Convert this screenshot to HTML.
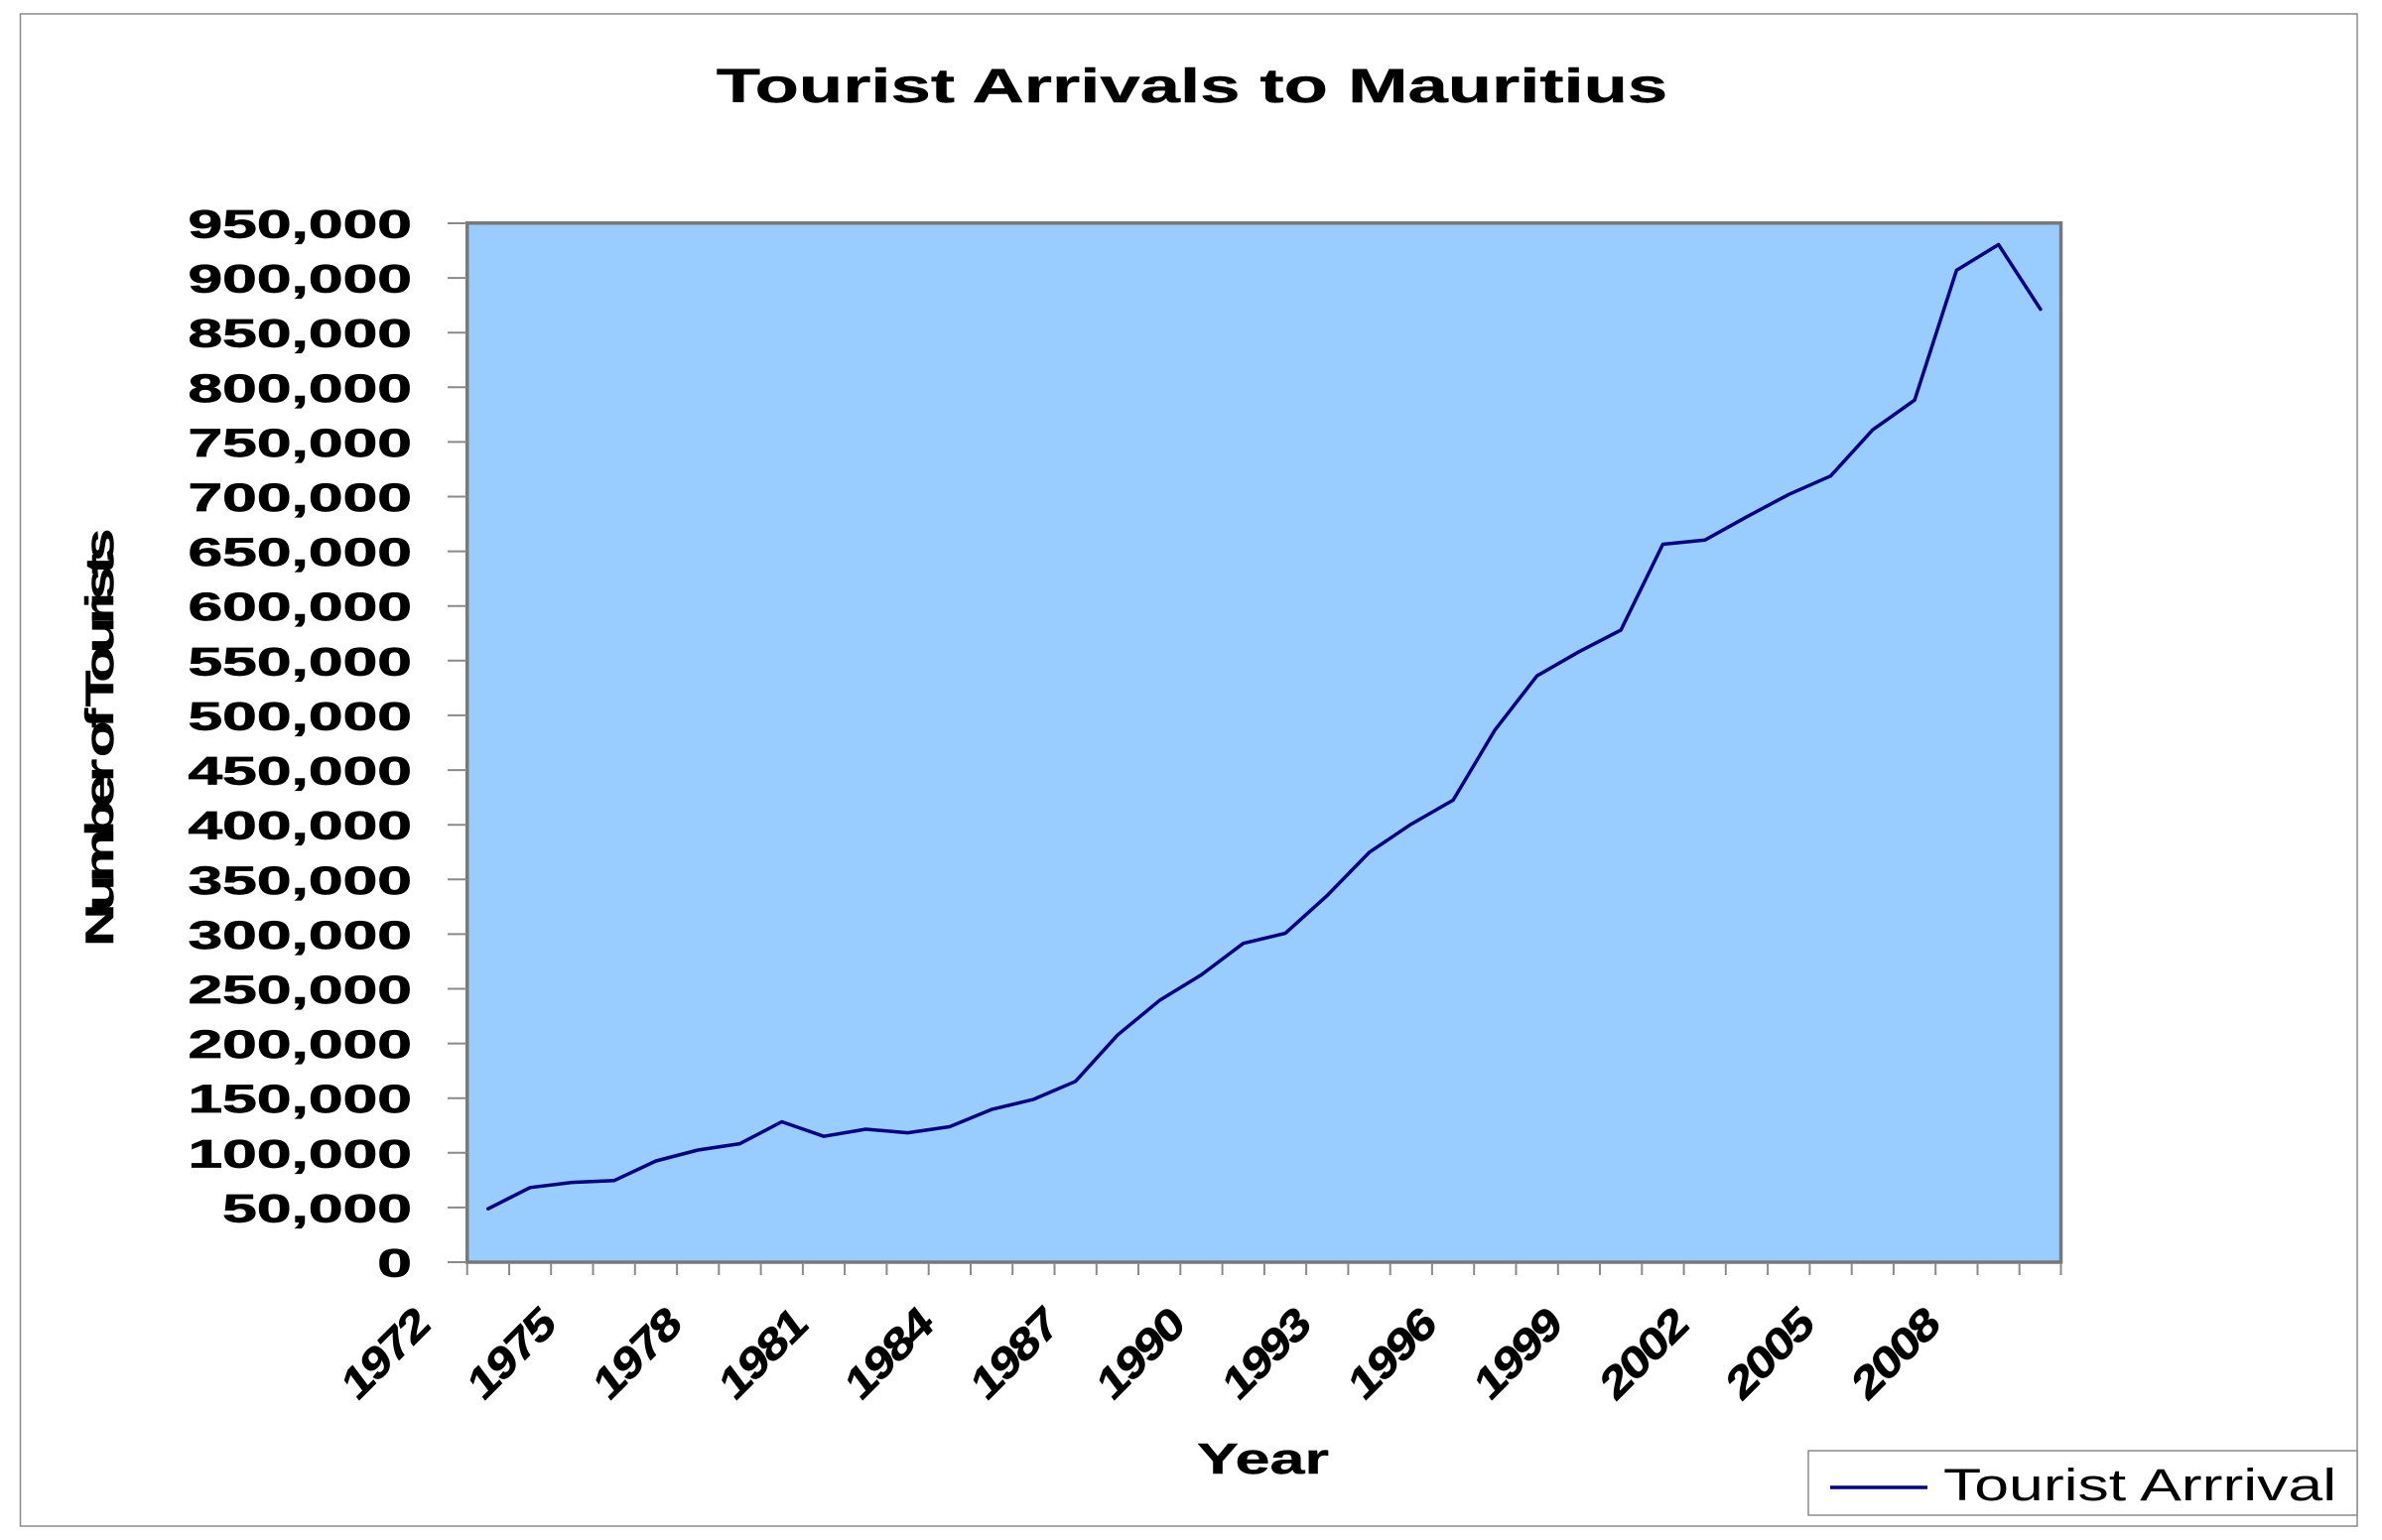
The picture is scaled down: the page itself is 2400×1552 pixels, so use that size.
<!DOCTYPE html>
<html>
<head>
<meta charset="utf-8">
<style>
  html, body { margin: 0; padding: 0; background: #ffffff; }
  body { width: 2400px; height: 1552px; overflow: hidden; }
  svg { display: block; }
  text { font-family: "Liberation Sans", Arial, sans-serif; fill: #000; }
</style>
</head>
<body>
<svg width="2400" height="1552" viewBox="0 0 2400 1552" xmlns="http://www.w3.org/2000/svg">
  <rect x="0" y="0" width="2400" height="1552" fill="#ffffff"/>
  <!-- outer chart border -->
  <rect x="20.5" y="14" width="2354.5" height="1524" fill="none" stroke="#8c8c8c" stroke-width="1.5"/>

  <!-- title -->
  <g transform="translate(1201,103) scale(1.51,1)">
    <text x="0" y="0" text-anchor="middle" font-size="48" font-weight="bold" stroke="#000" stroke-width="0.4">Tourist Arrivals to Mauritius</text>
  </g>

  <!-- plot area -->
  <rect x="470.7" y="224.8" width="1605.8" height="1047.2" fill="#99ccff" stroke="#787878" stroke-width="3.5"/>

  <!-- y ticks -->
  <g stroke="#8a8a8a" stroke-width="2">
    <line x1="451" y1="225" x2="470" y2="225"/>
    <line x1="451" y1="280.1" x2="470" y2="280.1"/>
    <line x1="451" y1="335.2" x2="470" y2="335.2"/>
    <line x1="451" y1="390.3" x2="470" y2="390.3"/>
    <line x1="451" y1="445.4" x2="470" y2="445.4"/>
    <line x1="451" y1="500.5" x2="470" y2="500.5"/>
    <line x1="451" y1="555.6" x2="470" y2="555.6"/>
    <line x1="451" y1="610.7" x2="470" y2="610.7"/>
    <line x1="451" y1="665.8" x2="470" y2="665.8"/>
    <line x1="451" y1="720.9" x2="470" y2="720.9"/>
    <line x1="451" y1="776.1" x2="470" y2="776.1"/>
    <line x1="451" y1="831.2" x2="470" y2="831.2"/>
    <line x1="451" y1="886.3" x2="470" y2="886.3"/>
    <line x1="451" y1="941.4" x2="470" y2="941.4"/>
    <line x1="451" y1="996.5" x2="470" y2="996.5"/>
    <line x1="451" y1="1051.6" x2="470" y2="1051.6"/>
    <line x1="451" y1="1106.7" x2="470" y2="1106.7"/>
    <line x1="451" y1="1161.8" x2="470" y2="1161.8"/>
    <line x1="451" y1="1216.9" x2="470" y2="1216.9"/>
    <line x1="451" y1="1272" x2="470" y2="1272"/>
  </g>

  <!-- x ticks -->
  <g stroke="#8a8a8a" stroke-width="2">
    <line x1="470.7" y1="1273" x2="470.7" y2="1285"/>
    <line x1="513.0" y1="1273" x2="513.0" y2="1285"/>
    <line x1="555.2" y1="1273" x2="555.2" y2="1285"/>
    <line x1="597.5" y1="1273" x2="597.5" y2="1285"/>
    <line x1="639.8" y1="1273" x2="639.8" y2="1285"/>
    <line x1="682.1" y1="1273" x2="682.1" y2="1285"/>
    <line x1="724.3" y1="1273" x2="724.3" y2="1285"/>
    <line x1="766.6" y1="1273" x2="766.6" y2="1285"/>
    <line x1="808.9" y1="1273" x2="808.9" y2="1285"/>
    <line x1="851.1" y1="1273" x2="851.1" y2="1285"/>
    <line x1="893.4" y1="1273" x2="893.4" y2="1285"/>
    <line x1="935.7" y1="1273" x2="935.7" y2="1285"/>
    <line x1="978.0" y1="1273" x2="978.0" y2="1285"/>
    <line x1="1020.2" y1="1273" x2="1020.2" y2="1285"/>
    <line x1="1062.5" y1="1273" x2="1062.5" y2="1285"/>
    <line x1="1104.8" y1="1273" x2="1104.8" y2="1285"/>
    <line x1="1147.0" y1="1273" x2="1147.0" y2="1285"/>
    <line x1="1189.3" y1="1273" x2="1189.3" y2="1285"/>
    <line x1="1231.6" y1="1273" x2="1231.6" y2="1285"/>
    <line x1="1273.9" y1="1273" x2="1273.9" y2="1285"/>
    <line x1="1316.1" y1="1273" x2="1316.1" y2="1285"/>
    <line x1="1358.4" y1="1273" x2="1358.4" y2="1285"/>
    <line x1="1400.7" y1="1273" x2="1400.7" y2="1285"/>
    <line x1="1442.9" y1="1273" x2="1442.9" y2="1285"/>
    <line x1="1485.2" y1="1273" x2="1485.2" y2="1285"/>
    <line x1="1527.5" y1="1273" x2="1527.5" y2="1285"/>
    <line x1="1569.8" y1="1273" x2="1569.8" y2="1285"/>
    <line x1="1612.0" y1="1273" x2="1612.0" y2="1285"/>
    <line x1="1654.3" y1="1273" x2="1654.3" y2="1285"/>
    <line x1="1696.6" y1="1273" x2="1696.6" y2="1285"/>
    <line x1="1738.8" y1="1273" x2="1738.8" y2="1285"/>
    <line x1="1781.1" y1="1273" x2="1781.1" y2="1285"/>
    <line x1="1823.4" y1="1273" x2="1823.4" y2="1285"/>
    <line x1="1865.7" y1="1273" x2="1865.7" y2="1285"/>
    <line x1="1907.9" y1="1273" x2="1907.9" y2="1285"/>
    <line x1="1950.2" y1="1273" x2="1950.2" y2="1285"/>
    <line x1="1992.5" y1="1273" x2="1992.5" y2="1285"/>
    <line x1="2034.7" y1="1273" x2="2034.7" y2="1285"/>
    <line x1="2076.5" y1="1273" x2="2076.5" y2="1285"/>
  </g>

  <!-- data line -->
  <polyline fill="none" stroke="#000080" stroke-width="3.5" stroke-linejoin="round" stroke-linecap="round"
    points="491.8,1218.2 534.1,1196.8 576.4,1191.6 618.7,1189.8 660.9,1170.0 703.2,1159.0 745.5,1152.6 787.7,1130.5 830.0,1145.2 872.3,1138.0 914.6,1141.6 956.8,1135.5 999.1,1118.1 1041.4,1107.9 1083.6,1089.8 1125.9,1043.2 1168.2,1008.3 1210.5,982.4 1252.7,950.7 1295.0,940.6 1337.3,902.4 1379.5,859.1 1421.8,830.6 1464.1,806.4 1506.4,735.4 1548.6,681.1 1590.9,656.8 1633.2,634.9 1675.4,548.5 1717.7,544.3 1760.0,520.8 1802.3,498.3 1844.5,479.7 1886.8,433.2 1929.1,403.2 1971.3,272.4 2013.6,246.5 2055.9,311.7"/>

  <!-- y tick labels -->
  <g font-size="40" font-weight="bold" stroke="#000" stroke-width="0.7">
    <text transform="translate(415,239.5) scale(1.56,1)" text-anchor="end">950,000</text>
    <text transform="translate(415,294.6) scale(1.56,1)" text-anchor="end">900,000</text>
    <text transform="translate(415,349.7) scale(1.56,1)" text-anchor="end">850,000</text>
    <text transform="translate(415,404.8) scale(1.56,1)" text-anchor="end">800,000</text>
    <text transform="translate(415,459.9) scale(1.56,1)" text-anchor="end">750,000</text>
    <text transform="translate(415,515.0) scale(1.56,1)" text-anchor="end">700,000</text>
    <text transform="translate(415,570.1) scale(1.56,1)" text-anchor="end">650,000</text>
    <text transform="translate(415,625.2) scale(1.56,1)" text-anchor="end">600,000</text>
    <text transform="translate(415,680.3) scale(1.56,1)" text-anchor="end">550,000</text>
    <text transform="translate(415,735.4) scale(1.56,1)" text-anchor="end">500,000</text>
    <text transform="translate(415,790.6) scale(1.56,1)" text-anchor="end">450,000</text>
    <text transform="translate(415,845.7) scale(1.56,1)" text-anchor="end">400,000</text>
    <text transform="translate(415,900.8) scale(1.56,1)" text-anchor="end">350,000</text>
    <text transform="translate(415,955.9) scale(1.56,1)" text-anchor="end">300,000</text>
    <text transform="translate(415,1011.0) scale(1.56,1)" text-anchor="end">250,000</text>
    <text transform="translate(415,1066.1) scale(1.56,1)" text-anchor="end">200,000</text>
    <text transform="translate(415,1121.2) scale(1.56,1)" text-anchor="end">150,000</text>
    <text transform="translate(415,1176.3) scale(1.56,1)" text-anchor="end">100,000</text>
    <text transform="translate(415,1231.4) scale(1.56,1)" text-anchor="end">50,000</text>
    <text transform="translate(415,1286.5) scale(1.56,1)" text-anchor="end">0</text>
  </g>

  <!-- y axis title -->
  <g transform="translate(114,747) rotate(-90) scale(1.5,1)">
    <text x="0" y="0" text-anchor="middle" font-size="40" font-weight="bold" letter-spacing="-5" stroke="#000" stroke-width="0.5">Number of Tourists</text>
  </g>

  <!-- x tick labels (rotated) -->
  <g font-size="43" font-weight="bold" letter-spacing="-2" stroke="#000" stroke-width="0.6">
    <text transform="translate(434,1339) rotate(-45) skewX(-8) scale(1.2,1)" text-anchor="end">1972</text>
    <text transform="translate(560.8,1339) rotate(-45) skewX(-8) scale(1.2,1)" text-anchor="end">1975</text>
    <text transform="translate(687.6,1339) rotate(-45) skewX(-8) scale(1.2,1)" text-anchor="end">1978</text>
    <text transform="translate(814.4,1339) rotate(-45) skewX(-8) scale(1.2,1)" text-anchor="end">1981</text>
    <text transform="translate(941.2,1339) rotate(-45) skewX(-8) scale(1.2,1)" text-anchor="end">1984</text>
    <text transform="translate(1068.0,1339) rotate(-45) skewX(-8) scale(1.2,1)" text-anchor="end">1987</text>
    <text transform="translate(1194.8,1339) rotate(-45) skewX(-8) scale(1.2,1)" text-anchor="end">1990</text>
    <text transform="translate(1321.6,1339) rotate(-45) skewX(-8) scale(1.2,1)" text-anchor="end">1993</text>
    <text transform="translate(1448.4,1339) rotate(-45) skewX(-8) scale(1.2,1)" text-anchor="end">1996</text>
    <text transform="translate(1575.2,1339) rotate(-45) skewX(-8) scale(1.2,1)" text-anchor="end">1999</text>
    <text transform="translate(1702.0,1339) rotate(-45) skewX(-8) scale(1.2,1)" text-anchor="end">2002</text>
    <text transform="translate(1828.8,1339) rotate(-45) skewX(-8) scale(1.2,1)" text-anchor="end">2005</text>
    <text transform="translate(1955.6,1339) rotate(-45) skewX(-8) scale(1.2,1)" text-anchor="end">2008</text>
  </g>

  <!-- x axis title -->
  <g transform="translate(1272.5,1485) scale(1.43,1)">
    <text x="0" y="0" text-anchor="middle" font-size="44" font-weight="bold" stroke="#000" stroke-width="0.4">Year</text>
  </g>

  <!-- legend -->
  <rect x="1822" y="1462" width="553" height="65" fill="#ffffff" stroke="#8c8c8c" stroke-width="1.5"/>
  <line x1="1844" y1="1499" x2="1942" y2="1499" stroke="#000080" stroke-width="3.5"/>
  <g transform="translate(1958,1512) scale(1.39,1)">
    <text x="0" y="0" font-size="45">Tourist Arrrival</text>
  </g>
</svg>
</body>
</html>
